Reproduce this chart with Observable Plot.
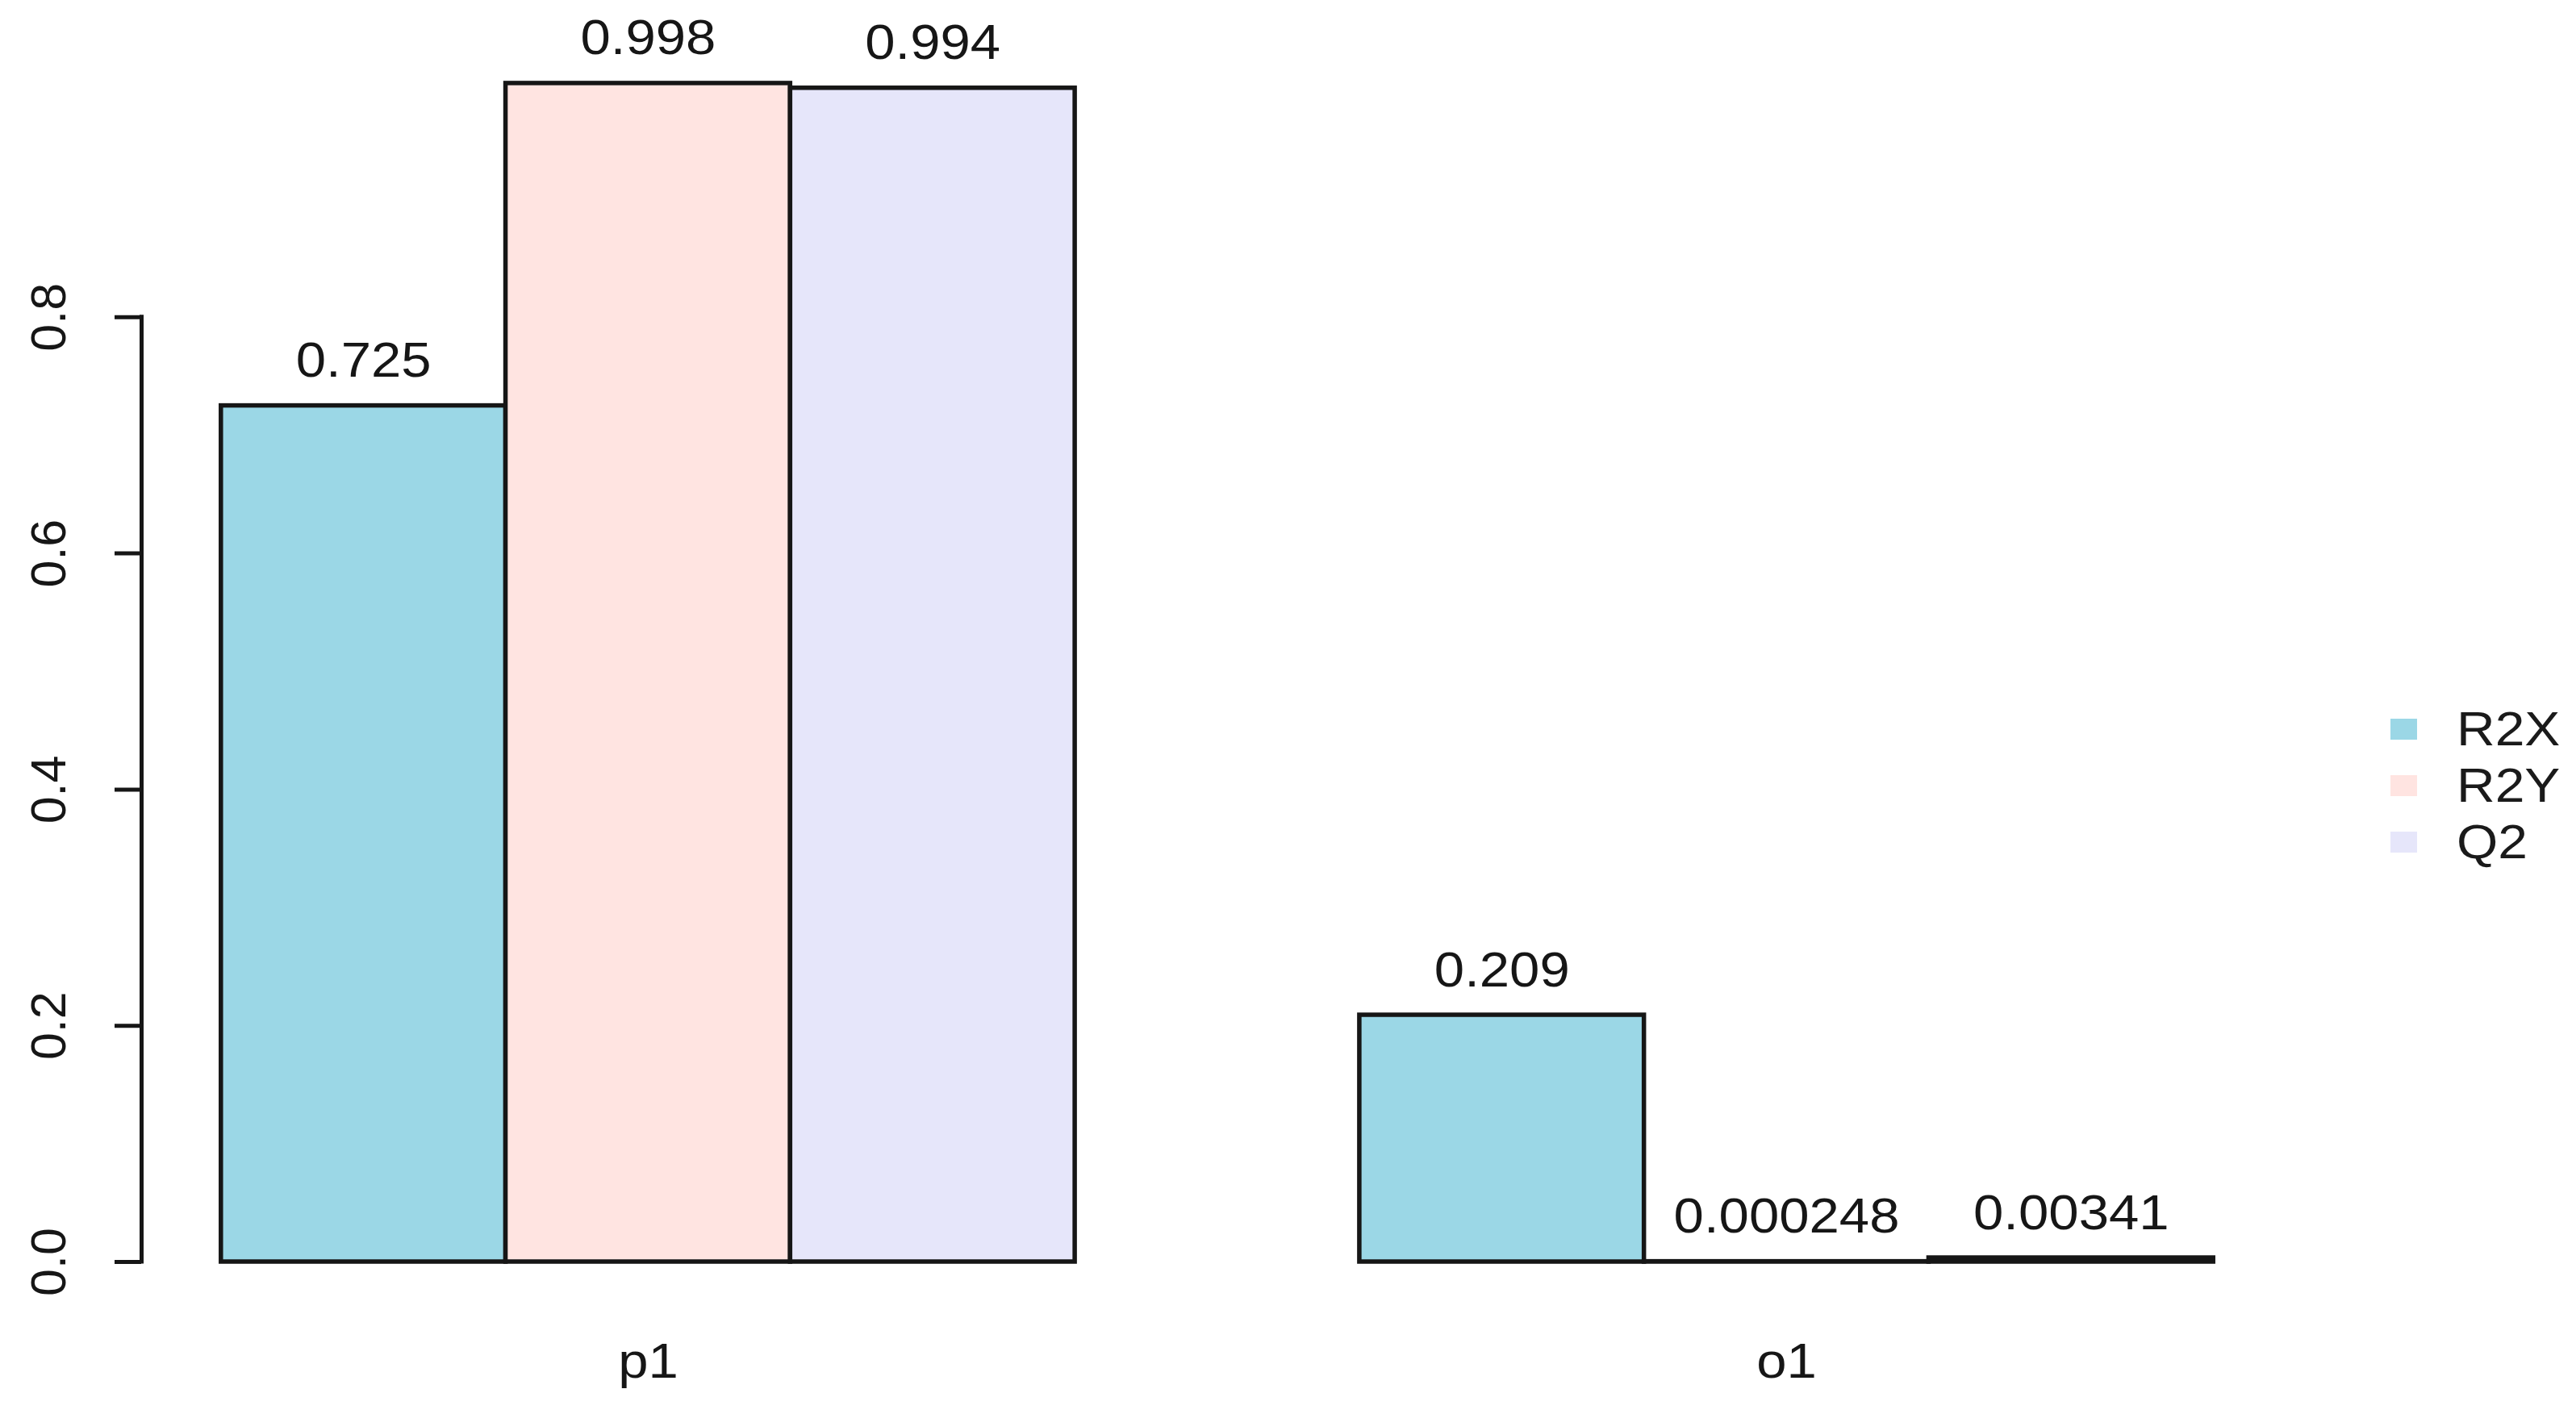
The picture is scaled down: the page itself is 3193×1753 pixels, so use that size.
<!DOCTYPE html>
<html>
<head>
<meta charset="utf-8">
<script src="https://cdn.jsdelivr.net/npm/d3@7"></script>
<script src="https://cdn.jsdelivr.net/npm/@observablehq/plot@0.6"></script>
<style>
  html, body { margin: 0; padding: 0; background: #fff; }
  #wrap { position: relative; width: 3193px; height: 1753px; overflow: hidden; }
  #legend { position: absolute; left: 2963px; top: 869px; font-family: "Liberation Sans", Arial, Helvetica, sans-serif; font-size: 60px; color: #1a1a1a; }
  .row { display: flex; align-items: center; height: 70px; }
  .sw { width: 33px; height: 26px; margin-right: 49px; }
  .lab { display: inline-block; transform: scaleX(1.1); transform-origin: left center; line-height: 1; }
</style>
</head>
<body>
<div id="wrap"></div>
<script>
// ---- data ----
const groups = ["p1", "o1"];
const series = ["R2X", "R2Y", "Q2"];
const colors = ["#9BD7E6", "#FFE4E1", "#E6E6FA"];
const R2X = [0.725, 0.209];
const R2Y = [0.998, 0.000248];
const Q2 = [0.994, 0.00341];
const yTicks = [0, 0.2, 0.4, 0.6, 0.8];
const yTickLabels = ["0.0", "0.2", "0.4", "0.6", "0.8"];

const values = {R2X, R2Y, Q2};
const n = series.length;
const rows = groups.flatMap((g, gi) => series.map((s, si) => ({
  group: g, series: s, value: values[s][gi], slot: gi * (n + 1) + si + 1
})));
const slotMin = 1, slotMax = d3.max(rows, d => d.slot + 1);
const pad = 0.04 * (slotMax - slotMin);
const xDomain = [slotMin - pad, slotMax + pad];
const groupCenters = groups.map((g, gi) => ({label: g, x: gi * (n + 1) + 1 + n / 2}));
const tickData = yTicks.map((v, i) => ({v, label: yTickLabels[i]}));

const font = "Liberation Sans, Arial, Helvetica, sans-serif";
const ink = "#161616";

const chart = Plot.plot({
  width: 3193,
  height: 1753,
  marginLeft: 175,
  marginRight: 351,
  marginTop: 100,
  marginBottom: 189,
  style: {fontFamily: font, background: "#fff", overflow: "visible"},
  x: {domain: xDomain, axis: null},
  y: {domain: [0, 1], axis: null},
  color: {domain: series, range: colors},
  marks: [
    Plot.rectY(rows, {x1: "slot", x2: d => d.slot + 1, y: "value", fill: "series", stroke: ink, strokeWidth: 5.5}),
    Plot.ruleX([xDomain[0]], {y1: yTicks[0], y2: yTicks[yTicks.length - 1], stroke: ink, strokeWidth: 5, strokeLinecap: "square"}),
    Plot.axisY({ticks: yTicks, tickSize: 33, tickFormat: () => "", stroke: ink, strokeWidth: 5}),
    Plot.text(tickData, {y: "v", text: "label", frameAnchor: "left", dx: -114, rotate: -90, textAnchor: "middle", lineAnchor: "middle", fontSize: 61, fill: ink}),
    Plot.text(rows, {x: d => d.slot + 0.5, y: "value", text: d => String(d.value), lineAnchor: "bottom", dy: -36, fontSize: 61, fill: ink}),
    Plot.text(groupCenters, {x: "x", y: () => 0, text: "label", dy: 124, lineAnchor: "middle", fontSize: 61, fill: ink})
  ]
});
document.getElementById("wrap").appendChild(chart);

// horizontal stretch of unrotated labels to match the reference's aspect
chart.querySelectorAll("text").forEach(t => {
  const tr = t.getAttribute("transform") || "";
  if (tr.includes("rotate")) return;
  const len = t.getComputedTextLength();
  if (len > 0) {
    t.setAttribute("textLength", (len * 1.1).toFixed(1));
    t.setAttribute("lengthAdjust", "spacingAndGlyphs");
  }
});

// legend
const legend = document.createElement("div");
legend.id = "legend";
series.forEach((s, i) => {
  const row = document.createElement("div");
  row.className = "row";
  const sw = document.createElement("span");
  sw.className = "sw";
  sw.style.background = colors[i];
  const lab = document.createElement("span");
  lab.className = "lab";
  lab.textContent = s;
  row.appendChild(sw);
  row.appendChild(lab);
  legend.appendChild(row);
});
document.getElementById("wrap").appendChild(legend);
</script>
</body>
</html>
